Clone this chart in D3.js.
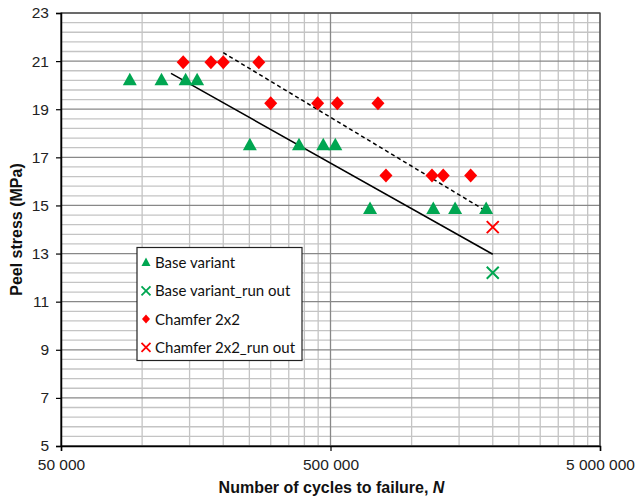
<!DOCTYPE html>
<html>
<head>
<meta charset="utf-8">
<script src="https://cdn.jsdelivr.net/npm/d3@7"></script>
<style>
  body { margin: 0; background: #fff; }
  svg { display: block; }
</style>
</head>
<body>
<div id="chart"></div>
<script>
// data
var baseN = [90000, 118000, 145000, 160000, 251000, 382000, 470000, 521000, 701000, 1203000, 1450000, 1890000];
var baseS = [20.2, 20.2, 20.2, 20.2, 17.5, 17.5, 17.5, 17.5, 14.85, 14.85, 14.85, 14.85];
var baseRunN = [2000000];
var baseRunS = [12.2];
var chamN = [142000, 180000, 200000, 271000, 300000, 448000, 530000, 750000, 803000, 1190000, 1310000, 1656000];
var chamS = [20.95, 20.95, 20.95, 20.95, 19.25, 19.25, 19.25, 19.25, 16.25, 16.25, 16.25, 16.25];
var chamRunN = [2000000];
var chamRunS = [14.1];
// trend lines (end points)
var baseFitN = [128000, 2000000];
var baseFitS = [20.49, 12.97];
var chamFitN = [200000, 2000000];
var chamFitS = [21.35, 14.6];

var xTicks = [50000, 500000, 5000000];
var xTickLabels = ['50 000', '500 000', '5 000 000'];
var yTicks = [5, 7, 9, 11, 13, 15, 17, 19, 21, 23];

var legendLabels = ['Base variant', 'Base variant_run out', 'Chamfer 2x2', 'Chamfer 2x2_run out'];

var green = '#00a651', red = '#ff0000';

var W = 639, H = 501;
var margin = {left: 61, right: 39, top: 13, bottom: 55};

var svg = d3.select('#chart').append('svg')
  .attr('width', W)
  .attr('height', H);

var x = d3.scaleLog().domain([50000, 5000000]).range([margin.left, W - margin.right]);
var y = d3.scaleLinear().domain([5, 23]).range([H - margin.bottom, margin.top]);

var x0 = x.range()[0], x1 = x.range()[1];
var y0 = y.range()[0], y1 = y.range()[1];

// gridlines
var yMinor = d3.range(5, 23.001, 0.4).filter(function(v) { return Math.abs((v - 5) / 2 - Math.round((v - 5) / 2)) > 0.01; });
var xMinor = [];
[50000, 500000].forEach(function(s) {
  for (var k = 2; k <= 9; k++) xMinor.push(s * k);
});

var grid = svg.append('g');
grid.selectAll('.hmin').data(yMinor).enter().append('line')
  .attr('x1', x0).attr('x2', x1)
  .attr('y1', function(d) { return y(d); }).attr('y2', function(d) { return y(d); })
  .attr('stroke', '#c4c4c4').attr('stroke-width', 1.3);
grid.selectAll('.vmin').data(xMinor).enter().append('line')
  .attr('x1', function(d) { return x(d); }).attr('x2', function(d) { return x(d); })
  .attr('y1', y0).attr('y2', y1)
  .attr('stroke', '#c4c4c4').attr('stroke-width', 1.3);
grid.selectAll('.hmaj').data(yTicks).enter().append('line')
  .attr('x1', x0).attr('x2', x1)
  .attr('y1', function(d) { return y(d); }).attr('y2', function(d) { return y(d); })
  .attr('stroke', '#888').attr('stroke-width', 1.3);
grid.selectAll('.vmaj').data(xTicks).enter().append('line')
  .attr('x1', function(d) { return x(d); }).attr('x2', function(d) { return x(d); })
  .attr('y1', y0).attr('y2', y1)
  .attr('stroke', '#888').attr('stroke-width', 1.3);

// plot border
svg.append('rect')
  .attr('x', x0).attr('y', y1)
  .attr('width', x1 - x0).attr('height', y0 - y1)
  .attr('fill', 'none').attr('stroke', '#444').attr('stroke-width', 1.2);

// axes
var yAxis = d3.axisLeft(y).tickValues(yTicks).tickSize(5).tickPadding(7);
var gy = svg.append('g').attr('transform', 'translate(' + x0 + ',0)').call(yAxis);
var xAxis = d3.axisBottom(x).tickValues(xTicks).tickSize(5).tickPadding(8)
  .tickFormat(function(d, i) { return xTickLabels[i]; });
var gx = svg.append('g').attr('transform', 'translate(0,' + y0 + ')').call(xAxis);

[gx, gy].forEach(function(g) {
  g.select('.domain').attr('stroke', '#000').attr('stroke-width', 1.5);
  g.selectAll('.tick line').attr('stroke', '#000').attr('stroke-width', 1.2);
  g.selectAll('.tick text')
    .attr('fill', '#222')
    .style('font-family', '"Liberation Sans", Arial, sans-serif')
    .style('font-size', '15.5px');
});

// axis titles
var title = svg.append('text')
  .attr('x', (x0 + x1) / 2 + 1)
  .attr('y', 493)
  .attr('text-anchor', 'middle')
  .style('font-family', '"Liberation Sans", Arial, sans-serif')
  .style('font-size', '16px')
  .style('font-weight', 'bold')
  .attr('fill', '#111');
title.append('tspan').text('Number of cycles to failure, ');
title.append('tspan').style('font-style', 'italic').text('N');

svg.append('text')
  .attr('transform', 'translate(22,' + (y0 + y1) / 2 + ') rotate(-90)')
  .attr('text-anchor', 'middle')
  .style('font-family', '"Liberation Sans", Arial, sans-serif')
  .style('font-size', '16px')
  .style('font-weight', 'bold')
  .attr('fill', '#111')
  .text('Peel stress (MPa)');

// trend lines
var line = d3.line()
  .x(function(d) { return x(d[0]); })
  .y(function(d) { return y(d[1]); });

svg.append('path')
  .datum(d3.zip(baseFitN, baseFitS))
  .attr('d', line)
  .attr('fill', 'none').attr('stroke', '#000').attr('stroke-width', 1.5);
svg.append('path')
  .datum(d3.zip(chamFitN, chamFitS))
  .attr('d', line)
  .attr('fill', 'none').attr('stroke', '#000').attr('stroke-width', 1.5)
  .attr('stroke-dasharray', '4,3');

// markers
var diamond = 'M0,-7L6.5,0L0,7L-6.5,0Z';
var triangle = 'M0,-7.5L7,5L-7,5Z';
var cross = 'M-6,-6L6,6M-6,6L6,-6';

function drawPoints(ns, ss, path, fill, stroke) {
  svg.append('g').selectAll('path')
    .data(d3.zip(ns, ss))
    .enter().append('path')
    .attr('transform', function(d) { return 'translate(' + x(d[0]) + ',' + y(d[1]) + ')'; })
    .attr('d', path)
    .attr('fill', fill)
    .attr('stroke', stroke)
    .attr('stroke-width', stroke === 'none' ? 0 : 2);
}

drawPoints(chamN, chamS, diamond, red, 'none');
drawPoints(baseN, baseS, triangle, green, 'none');
drawPoints(chamRunN, chamRunS, cross, 'none', red);
drawPoints(baseRunN, baseRunS, cross, 'none', green);

// legend
var lg = svg.append('g');
lg.append('rect')
  .attr('x', 137).attr('y', 247.5)
  .attr('width', 165).attr('height', 113)
  .attr('fill', '#fff').attr('stroke', '#222').attr('stroke-width', 1.2);

var legendMarks = [
  {d: 'M0,-5L4.5,3.5L-4.5,3.5Z', fill: green, stroke: 'none'},
  {d: cross, fill: 'none', stroke: green},
  {d: 'M0,-4.5L4,0L0,4.5L-4,0Z', fill: red, stroke: 'none'},
  {d: cross, fill: 'none', stroke: red}
];

legendLabels.forEach(function(lbl, i) {
  var cy = 262.5 + i * 28.3;
  var m = legendMarks[i];
  lg.append('path')
    .attr('transform', 'translate(146,' + cy + ')' + (m.stroke !== 'none' ? ' scale(0.75)' : ''))
    .attr('d', m.d)
    .attr('fill', m.fill)
    .attr('stroke', m.stroke)
    .attr('stroke-width', m.stroke !== 'none' ? 2.4 : 0);
  lg.append('text')
    .attr('x', 155)
    .attr('y', cy + 5.5)
    .style('font-family', 'Lato, "Open Sans", sans-serif')
    .style('font-size', '15px')
    .attr('fill', '#111')
    .text(lbl);
});
</script>
</body>
</html>
